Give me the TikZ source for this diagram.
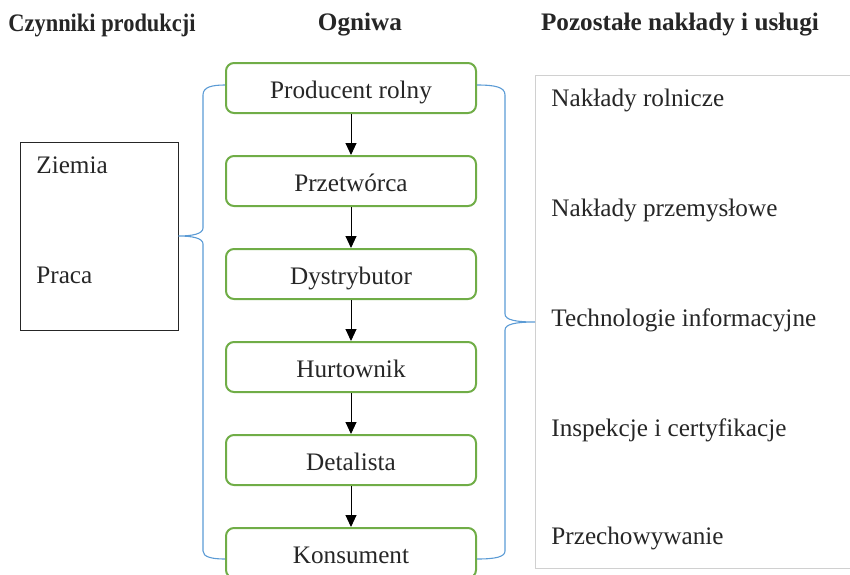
\documentclass[tikz,border=0pt]{standalone}
\usepackage{fontspec}
\setmainfont{Liberation Serif}
\usepackage{tikz}
\usetikzlibrary{positioning,arrows.meta}
\definecolor{ogZielony}{HTML}{70AD47}
\definecolor{ogNiebieski}{HTML}{5B9BD5}
\definecolor{ogSzary}{HTML}{D0D0D0}
\definecolor{ogTekst}{HTML}{262626}

\begin{document}
\begin{tikzpicture}[x=0.5pt,y=-0.5pt,
    font=\fontsize{12.6}{15}\selectfont, text=ogTekst,
    ogniwo/.style={draw=ogZielony,line width=1pt,rounded corners=4pt,
        minimum width=125pt,minimum height=25pt,inner sep=0pt,
        text height=10pt,text depth=0pt},
    naglowek/.style={font=\fontsize{12.6}{15}\selectfont\bfseries},
    pozycja/.style={anchor=west,inner sep=0pt},
    strzalka/.style={-{Triangle[width=5.5pt,length=6pt]},black,line width=0.5pt},
    klamra/.style={ogNiebieski,line width=0.55pt}]
        % rozmiar obrazka
        \useasboundingbox (0,0) rectangle (850,574);
        \newcommand{\odstep}{20.5pt} % odstep miedzy ogniwami

        % naglowki
        \node[naglowek] (hCzynniki) at (102,25) {\scalebox{0.89}[1]{Czynniki produkcji}};
        \node[naglowek] (hOgniwa) at (360,25) {Ogniwa};
        \node[naglowek] (hNaklady) at (680,25) {Pozostałe nakłady i usługi};

        % ogniwa lancucha
        \node[ogniwo] (prod) at (351,88) {Producent rolny};
        \node[ogniwo,below=\odstep of prod] (przetw) {Przetwórca};
        \node[ogniwo,below=\odstep of przetw] (dystr) {Dystrybutor};
        \node[ogniwo,below=\odstep of dystr] (hurt) {Hurtownik};
        \node[ogniwo,below=\odstep of hurt] (detal) {Detalista};
        \node[ogniwo,below=\odstep of detal] (kons) {Konsument};

        % strzalki
        \draw[strzalka] (prod) -- (przetw);
        \draw[strzalka] (przetw) -- (dystr);
        \draw[strzalka] (dystr) -- (hurt);
        \draw[strzalka] (hurt) -- (detal);
        \draw[strzalka] (detal) -- (kons);

        % czynniki produkcji (lewa ramka)
        \node[draw=black!85,line width=0.5pt,minimum width=79pt,minimum height=94pt,
            inner sep=0pt] (czynniki) at (99,236) {};
        \node[pozycja] (ziemia) at (36,165) {Ziemia};
        \node[pozycja] (praca) at (36,275) {Praca};

        % pozostale naklady (prawa ramka, ucieta z prawej)
        \draw[ogSzary,line width=0.5pt] (860,75) -- (535,75) -- (535,568) -- (860,568);
        \coordinate (naklady) at (535,322);
        \node[pozycja] (rolnicze) at (551,100) {Nakłady rolnicze};
        \node[pozycja] (przem) at (551,210) {Nakłady przemysłowe};
        \node[pozycja] (techn) at (551,320) {Technologie informacyjne};
        \node[pozycja] (inspek) at (551,430) {Inspekcje i certyfikacje};
        \node[pozycja] (przech) at (551,538) {Przechowywanie};

        % klamry (recznie)
        \draw[klamra] ([yshift=1.5pt]prod.west) .. controls (212,85) and (203,87) .. (203,95)
            -- (203,228) .. controls (203,234) and (192,236) .. (czynniki.east)
            .. controls (192,236) and (203,238) .. (203,244)
            -- (203,551) .. controls (203,557) and (212,559) .. ([yshift=-3pt]kons.west);
        \draw[klamra] ([yshift=1.5pt]prod.east) .. controls (495,85) and (505,87) .. (505,95)
            -- (505,314) .. controls (505,320) and (516,322) .. (naklady)
            .. controls (516,322) and (505,324) .. (505,330)
            -- (505,551) .. controls (505,557) and (495,559) .. ([yshift=-3pt]kons.east);
    \end{tikzpicture}
\end{document}
